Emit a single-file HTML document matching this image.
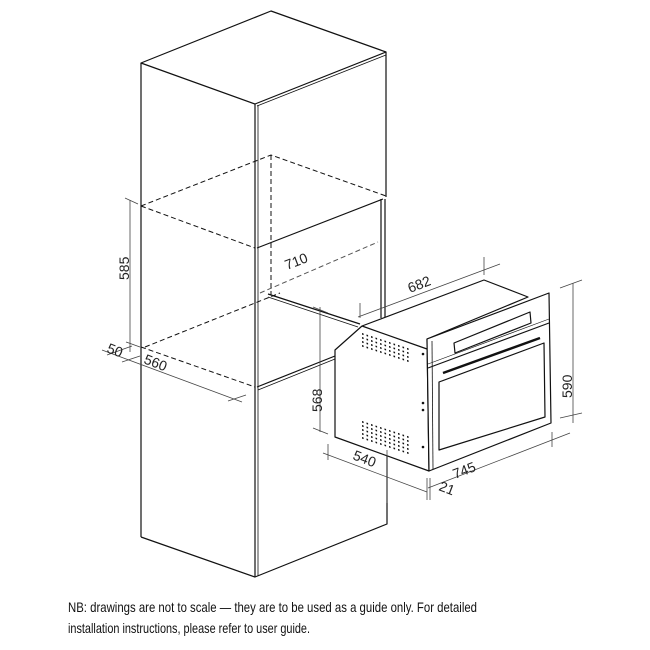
<!DOCTYPE html>
<html><head><meta charset="utf-8"><style>html,body{margin:0;padding:0;background:#fff}svg{display:block}</style></head>
<body>
<svg width="650" height="650" viewBox="0 0 650 650" xmlns="http://www.w3.org/2000/svg" font-family="Liberation Sans, sans-serif">
<g fill="none" stroke="#111" stroke-width="1.2" stroke-linejoin="round">
<!-- top cabinet -->
<polygon points="141,63 271,11 386,52 255,104"/>
<line x1="257" y1="106" x2="386" y2="55" stroke-width="0.8"/>
<line x1="141" y1="63" x2="141" y2="537"/>
<line x1="255" y1="104" x2="255" y2="577"/>
<line x1="258" y1="105" x2="258" y2="576" stroke-width="0.8"/>
<line x1="386" y1="52" x2="386" y2="197"/>
<line x1="257" y1="248" x2="383" y2="199"/>
<line x1="381" y1="199" x2="381" y2="318"/>
<line x1="385" y1="199" x2="385" y2="318"/>
<!-- bottom -->
<polyline points="141,537 255,577 387,524 387,450"/>
<line x1="257" y1="387" x2="335" y2="356"/>
<line x1="258" y1="390" x2="335" y2="359" stroke-width="0.8"/>
<line x1="268" y1="294" x2="360" y2="324"/>
<line x1="268" y1="297" x2="358" y2="327" stroke-width="0.8"/>
</g>
<g fill="none" stroke="#111" stroke-width="1" stroke-dasharray="5,3">
<polyline points="141,206 271,155 386,196"/>
<line x1="141" y1="206" x2="255" y2="248"/>
<line x1="271" y1="155" x2="271" y2="295"/>
<line x1="141" y1="347" x2="255" y2="387"/>
<line x1="145" y1="347" x2="280" y2="293"/>
<line x1="260" y1="293" x2="378" y2="242" stroke="#555"/>
</g>
<!-- oven -->
<g fill="#fff" stroke="#111" stroke-width="1.2" stroke-linejoin="round">
<polygon points="362,326 484,280 528,297 427,339 429,471 335,437 335,350"/>
<line x1="362" y1="326" x2="427" y2="349"/>
<polygon points="427,339 549,293 551,423 429,471"/>
<line x1="432" y1="341" x2="433" y2="469" stroke-width="0.8"/>
<line x1="428" y1="368" x2="549" y2="323"/>
<line x1="428" y1="364" x2="549" y2="319" stroke-width="0.6"/>
<polygon points="454,343 530,312 531,323 455,353"/>
<line x1="443" y1="373" x2="540" y2="338" stroke-width="2.5"/>
<polygon points="439,382 544,343 545,417 439,450"/>
</g>
<g fill="#111">
<circle cx="423" cy="354" r="1.3"/><circle cx="423" cy="403" r="1.3"/><circle cx="423" cy="410" r="1.3"/><circle cx="423" cy="447" r="1.3"/>
</g>
<g fill="#111" id="dots"></g>
<!-- dimensions -->
<g fill="none" stroke="#444" stroke-width="0.8">
<line x1="358" y1="317" x2="500" y2="264"/><line x1="360" y1="303" x2="360" y2="318"/><line x1="484" y1="257" x2="484" y2="275"/>
<line x1="573" y1="283" x2="573" y2="423"/><line x1="560" y1="288" x2="582" y2="280"/><line x1="560" y1="418" x2="582" y2="413"/>
<line x1="320" y1="307" x2="320" y2="432"/><line x1="313" y1="307" x2="328" y2="313"/><line x1="313" y1="428" x2="328" y2="434"/>
<line x1="323" y1="453" x2="427" y2="492"/><line x1="328" y1="444" x2="328" y2="460"/><line x1="387" y1="450" x2="387" y2="503"/>
<line x1="428" y1="488" x2="570" y2="433"/><line x1="427" y1="478" x2="427" y2="500"/><line x1="430" y1="478" x2="430" y2="500"/><line x1="552" y1="432" x2="552" y2="447"/>
<line x1="130" y1="200" x2="130" y2="352"/><line x1="125" y1="198" x2="138" y2="204"/><line x1="126" y1="342" x2="140" y2="347"/>
<line x1="102" y1="350" x2="242" y2="402"/><line x1="107" y1="355" x2="132" y2="346"/><line x1="122" y1="362" x2="140" y2="356"/><line x1="228" y1="401" x2="246" y2="395"/>
</g>
<g fill="#222" font-size="14">
<text transform="translate(410,293) rotate(-21)">682</text>
<text transform="translate(572,398) rotate(-90)">590</text>
<text transform="translate(322,412) rotate(-90)">568</text>
<text transform="translate(352,459) rotate(21)">540</text>
<text transform="translate(455,479) rotate(-21)">745</text>
<text transform="translate(438,490) rotate(21)">21</text>
<text transform="translate(129,280) rotate(-90)">585</text>
<text transform="translate(106,352) rotate(21)">50</text>
<text transform="translate(143,363) rotate(21)">560</text>
<text transform="translate(287,270) rotate(-21)">710</text>
</g>
<g fill="#111" font-size="14">
<text x="68" y="612" textLength="409" lengthAdjust="spacingAndGlyphs">NB: drawings are not to scale — they are to be used as a guide only.  For detailed</text>
<text x="68" y="633" textLength="242" lengthAdjust="spacingAndGlyphs">installation instructions, please refer to user guide.</text>
</g>
<g fill="#111">
<!-- top vent group -->
<g transform="matrix(1,0.33,0,1,362,333)">
<path d="M0,0h1.6v1.6h-1.6zM4.5,0h1.6v1.6h-1.6zM9,0h1.6v1.6h-1.6zM13.5,0h1.6v1.6h-1.6zM18,0h1.6v1.6h-1.6zM22.5,0h1.6v1.6h-1.6zM27,0h1.6v1.6h-1.6zM31.5,0h1.6v1.6h-1.6zM36,0h1.6v1.6h-1.6zM40.5,0h1.6v1.6h-1.6zM45,0h1.6v1.6h-1.6z"/>
<path transform="translate(0,4)" d="M0,0h1.6v1.6h-1.6zM4.5,0h1.6v1.6h-1.6zM9,0h1.6v1.6h-1.6zM13.5,0h1.6v1.6h-1.6zM18,0h1.6v1.6h-1.6zM22.5,0h1.6v1.6h-1.6zM27,0h1.6v1.6h-1.6zM31.5,0h1.6v1.6h-1.6zM36,0h1.6v1.6h-1.6zM40.5,0h1.6v1.6h-1.6zM45,0h1.6v1.6h-1.6z"/>
<path transform="translate(0,8)" d="M0,0h1.6v1.6h-1.6zM4.5,0h1.6v1.6h-1.6zM9,0h1.6v1.6h-1.6zM13.5,0h1.6v1.6h-1.6zM18,0h1.6v1.6h-1.6zM22.5,0h1.6v1.6h-1.6zM27,0h1.6v1.6h-1.6zM31.5,0h1.6v1.6h-1.6zM36,0h1.6v1.6h-1.6zM40.5,0h1.6v1.6h-1.6zM45,0h1.6v1.6h-1.6z"/>
<path transform="translate(0,12)" d="M0,0h1.6v1.6h-1.6zM4.5,0h1.6v1.6h-1.6zM9,0h1.6v1.6h-1.6zM13.5,0h1.6v1.6h-1.6zM18,0h1.6v1.6h-1.6zM22.5,0h1.6v1.6h-1.6zM27,0h1.6v1.6h-1.6zM31.5,0h1.6v1.6h-1.6zM36,0h1.6v1.6h-1.6zM40.5,0h1.6v1.6h-1.6zM45,0h1.6v1.6h-1.6z"/>
</g>
<g transform="matrix(1,0.33,0,1,362,421)">
<path d="M0,0h1.6v1.6h-1.6zM4.5,0h1.6v1.6h-1.6zM9,0h1.6v1.6h-1.6zM13.5,0h1.6v1.6h-1.6zM18,0h1.6v1.6h-1.6zM22.5,0h1.6v1.6h-1.6zM27,0h1.6v1.6h-1.6zM31.5,0h1.6v1.6h-1.6zM36,0h1.6v1.6h-1.6zM40.5,0h1.6v1.6h-1.6zM45,0h1.6v1.6h-1.6z"/>
<path transform="translate(0,4)" d="M0,0h1.6v1.6h-1.6zM4.5,0h1.6v1.6h-1.6zM9,0h1.6v1.6h-1.6zM13.5,0h1.6v1.6h-1.6zM18,0h1.6v1.6h-1.6zM22.5,0h1.6v1.6h-1.6zM27,0h1.6v1.6h-1.6zM31.5,0h1.6v1.6h-1.6zM36,0h1.6v1.6h-1.6zM40.5,0h1.6v1.6h-1.6zM45,0h1.6v1.6h-1.6z"/>
<path transform="translate(0,8)" d="M0,0h1.6v1.6h-1.6zM4.5,0h1.6v1.6h-1.6zM9,0h1.6v1.6h-1.6zM13.5,0h1.6v1.6h-1.6zM18,0h1.6v1.6h-1.6zM22.5,0h1.6v1.6h-1.6zM27,0h1.6v1.6h-1.6zM31.5,0h1.6v1.6h-1.6zM36,0h1.6v1.6h-1.6zM40.5,0h1.6v1.6h-1.6zM45,0h1.6v1.6h-1.6z"/>
<path transform="translate(0,12)" d="M0,0h1.6v1.6h-1.6zM4.5,0h1.6v1.6h-1.6zM9,0h1.6v1.6h-1.6zM13.5,0h1.6v1.6h-1.6zM18,0h1.6v1.6h-1.6zM22.5,0h1.6v1.6h-1.6zM27,0h1.6v1.6h-1.6zM31.5,0h1.6v1.6h-1.6zM36,0h1.6v1.6h-1.6zM40.5,0h1.6v1.6h-1.6zM45,0h1.6v1.6h-1.6z"/>
<path transform="translate(0,16)" d="M0,0h1.6v1.6h-1.6zM4.5,0h1.6v1.6h-1.6zM9,0h1.6v1.6h-1.6zM13.5,0h1.6v1.6h-1.6zM18,0h1.6v1.6h-1.6zM22.5,0h1.6v1.6h-1.6zM27,0h1.6v1.6h-1.6zM31.5,0h1.6v1.6h-1.6zM36,0h1.6v1.6h-1.6zM40.5,0h1.6v1.6h-1.6zM45,0h1.6v1.6h-1.6z"/>
</g>
</g>
</svg>
</body></html>
